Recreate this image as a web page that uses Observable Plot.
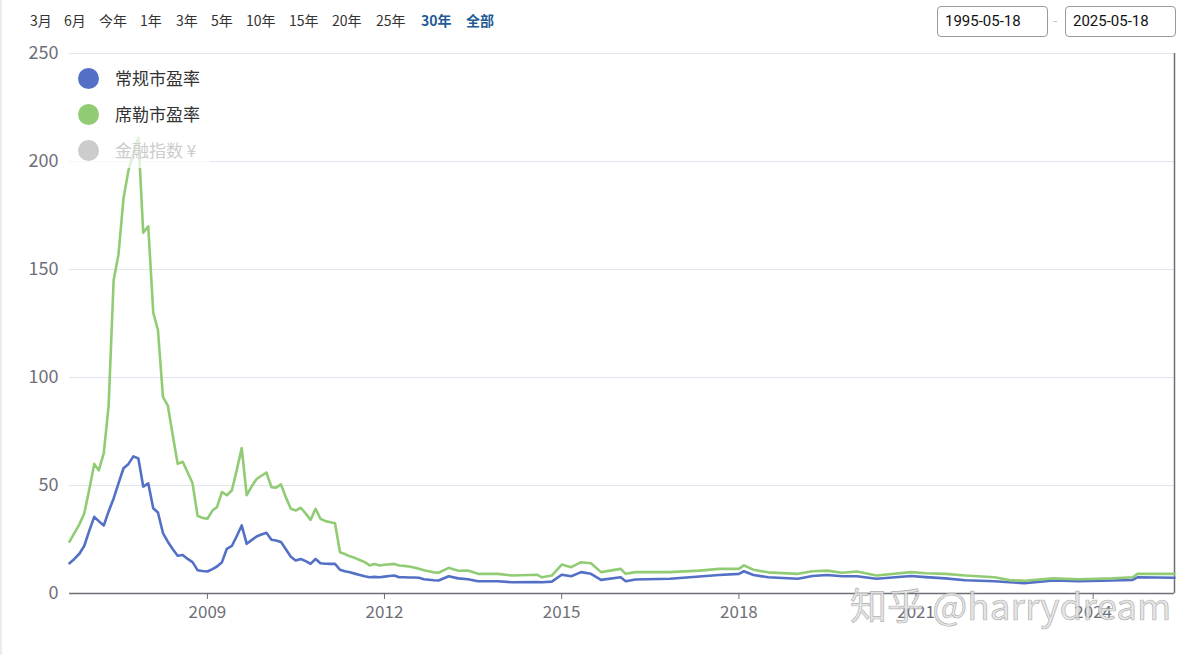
<!DOCTYPE html>
<html><head><meta charset="utf-8">
<script src="https://cdn.jsdelivr.net/npm/d3@7"></script>
<script src="https://cdn.jsdelivr.net/npm/@observablehq/plot@0.6"></script>
<style>
body{margin:0;background:#fff;font-family:"Noto Sans CJK SC",Roboto,sans-serif;}
#wrap{position:relative;width:1187px;height:655px;overflow:hidden;}
#edge{position:absolute;left:0;top:0;width:2px;height:655px;background:#ececec;}
.btn{position:absolute;top:0;line-height:40px;font-size:14px;color:#333;white-space:nowrap;}
.btn.on{color:#245b95;font-weight:bold;}
.date{position:absolute;top:6px;width:111px;height:31px;box-sizing:border-box;border:1px solid #9a9a9a;border-radius:4px;padding-left:7px;line-height:29px;font-size:15px;color:#111;font-family:Roboto,sans-serif;}
#dash{position:absolute;left:1053px;top:10px;font-size:13px;color:#bbb;}
#legbg{position:absolute;left:70px;top:60px;width:140px;height:108px;background:rgba(255,255,255,0.72);}
.dot{position:absolute;width:21px;height:21px;border-radius:50%;}
.lt{position:absolute;font-size:17px;line-height:24px;color:#333;white-space:nowrap;}
#wm{position:absolute;left:850px;top:582px;font-size:37px;line-height:44px;color:rgba(225,225,225,0.85);-webkit-text-stroke:0.7px rgba(120,120,120,0.55);white-space:nowrap;font-family:"Noto Sans CJK SC",sans-serif;}
svg{position:absolute;left:0;top:0;}
</style></head>
<body>
<div id="wrap"></div>
<script>
// ---- data ----
const dates = [
"2006-09","2006-10","2006-11","2006-12","2007-01","2007-02","2007-03","2007-04","2007-05","2007-06","2007-07","2007-08",
"2007-09","2007-10","2007-11","2007-12","2008-01","2008-02","2008-03","2008-04","2008-05","2008-06","2008-07","2008-08",
"2008-09","2008-10","2008-11","2008-12","2009-01","2009-02","2009-03","2009-04","2009-05","2009-06","2009-07","2009-08",
"2009-09","2009-10","2009-11","2009-12","2010-01","2010-02","2010-03","2010-04","2010-05","2010-06","2010-07","2010-08",
"2010-09","2010-10","2010-11","2010-12","2011-01","2011-02","2011-03","2011-04","2011-05","2011-06","2011-07","2011-08",
"2011-09","2011-10","2011-11","2011-12","2012-01","2012-02","2012-03","2012-04","2012-05","2012-06","2012-07","2012-08",
"2012-09","2012-11","2012-12","2013-02","2013-04","2013-06","2013-08","2013-12","2014-03","2014-08","2014-09","2014-11",
"2015-01","2015-03","2015-05","2015-07","2015-09","2016-01","2016-02","2016-04","2016-11","2017-05","2017-09","2018-01",
"2018-02","2018-04","2018-07","2019-01","2019-04","2019-07","2019-10","2020-01","2020-05","2020-12","2021-03","2021-07",
"2021-11","2022-05","2022-08","2022-11","2023-05","2023-10","2024-05","2024-09","2024-10","2025-05-18"
];
// 常规市盈率
const pe = [
14,16,18.4,22,29,35.5,33.5,31.5,38,44,51,58,
60,63.5,62.5,49.5,51,39.5,37.5,28,24,20.5,17.5,17.8,
16,14.5,10.8,10.4,10.2,11.3,12.5,14.5,20.7,22,26.5,31.5,
23,24.7,26.4,27.3,28.1,24.9,24.5,23.8,20.5,17,15.3,16,
15,13.7,16,14,13.8,13.7,13.7,11,10.3,9.8,9.2,8.6,
8.0,7.5,7.7,7.5,7.8,8.1,8.3,7.5,7.5,7.4,7.4,7.3,
6.6,6.1,6.0,8.0,7.0,6.6,5.7,5.7,5.2,5.3,5.2,5.5,
8.7,8.0,9.9,9.1,6.3,7.5,5.7,6.5,6.8,7.9,8.6,9.1,
10.3,8.6,7.5,6.8,8.1,8.6,8.0,8.0,6.8,8.1,7.6,7.0,
6.1,5.7,5.2,4.8,6.0,5.7,6.0,6.3,7.5,7.3
];
// 席勒市盈率
const cape = [
24,28,32,37,48,60,57,65,87,145,157,183,
196,204,211,167,170,130,122,91,87,73,60,61,
56,51,36,35,34.6,38.4,40,47,45.5,47.7,57,67.3,
45.5,49.5,53,54.5,56,49.2,49,50.5,44.5,39.2,38.4,39.7,
37,34.1,39.2,34.6,33.5,33,32.5,19.1,18.3,17.2,16.5,15.5,
14.5,13,13.7,13,13.3,13.5,13.7,13,12.8,12.5,12,11.5,
10.8,9.8,9.6,11.9,10.5,10.6,9.1,9.1,8.3,8.7,7.5,8.3,
13.4,12.2,14.5,14,9.9,11.4,9.1,9.9,9.9,10.6,11.4,11.4,
13,11,9.8,9.1,10.3,10.6,9.6,10.2,8.3,9.9,9.4,9.1,
8.3,7.5,6.2,5.9,7.0,6.6,7.0,7.5,9.1,9.1
];
const yTicks = [0,50,100,150,200,250];
const xTickYears = [2009,2012,2015,2018,2021,2024];
const ranges = ["3月","6月","今年","1年","3年","5年","10年","15年","20年","25年","30年","全部"];
const activeRanges = ["30年","全部"];
const seriesNames = ["常规市盈率","席勒市盈率","金融指数 ¥"];
const seriesColors = ["#5470c6","#91cc75","#cccccc"];
const dateFrom = "1995-05-18", dateTo = "2025-05-18";

// ---- build ----
const parseDate = s => s.length > 7 ? d3.utcParse("%Y-%m-%d")(s) : d3.utcParse("%Y-%m")(s);
const data = dates.map((d, i) => ({date: parseDate(d), pe: pe[i], cape: cape[i]}));
const x0 = data[0].date, x1 = data[data.length - 1].date;
const xTicks = xTickYears.map(y => new Date(Date.UTC(y, 0, 1)));

const chart = Plot.plot({
  width: 1187, height: 655,
  marginTop: 53, marginBottom: 62, marginLeft: 69, marginRight: 13,
  style: {fontFamily: '"Noto Sans CJK SC", sans-serif', fontSize: "18px", color: "#6e7079", background: "transparent"},
  x: {type: "utc", domain: [x0, x1]},
  y: {domain: [0, 250]},
  marks: [
    Plot.gridY(yTicks, {stroke: "#e0e6f1", strokeOpacity: 1, strokeWidth: 1}),
    Plot.ruleX([x1], {stroke: "#6e7079", strokeWidth: 1.5}),
    Plot.lineY(data, {x: "date", y: "pe", stroke: seriesColors[0], strokeWidth: 2.6}),
    Plot.lineY(data, {x: "date", y: "cape", stroke: seriesColors[1], strokeWidth: 2.6}),
    Plot.ruleY([0], {stroke: "#6e7079", strokeWidth: 1.3}),
    Plot.axisY(yTicks, {tickSize: 0, tickPadding: 11, fontSize: 18, fill: "#6e7079"}),
    Plot.axisX(xTicks, {tickSize: 6, tickPadding: 6, tickFormat: "%Y", stroke: "#6e7079", fill: "#6e7079", fontSize: 17})
  ]
});

const wrap = document.getElementById("wrap");
wrap.appendChild(chart);

const edge = document.createElement("div"); edge.id = "edge"; wrap.appendChild(edge);

const btnLeft = [30,64,99,140,176,211,246,289,332,376,421,466];
ranges.forEach((r, i) => {
  const s = document.createElement("span");
  s.className = "btn" + (activeRanges.includes(r) ? " on" : "");
  s.style.left = btnLeft[i] + "px";
  s.textContent = r;
  wrap.appendChild(s);
});
[[dateFrom, 937], [dateTo, 1065]].forEach(([t, l]) => {
  const d = document.createElement("div");
  d.className = "date"; d.style.left = l + "px"; d.textContent = t;
  wrap.appendChild(d);
});
const dash = document.createElement("div"); dash.id = "dash"; dash.textContent = "-"; wrap.appendChild(dash);

const legbg = document.createElement("div"); legbg.id = "legbg"; wrap.appendChild(legbg);
seriesNames.forEach((n, i) => {
  const cy = 78 + i * 36;
  const dot = document.createElement("div");
  dot.className = "dot"; dot.style.left = "78px"; dot.style.top = (cy - 10.5) + "px";
  dot.style.background = seriesColors[i];
  wrap.appendChild(dot);
  const t = document.createElement("div");
  t.className = "lt"; t.style.left = "115px"; t.style.top = (cy - 12) + "px";
  t.textContent = n;
  if (i === 2) t.style.color = "#cccccc";
  wrap.appendChild(t);
});

const wm = document.createElement("div"); wm.id = "wm"; wm.textContent = "知乎 @harrydream"; wrap.appendChild(wm);
</script>
</body></html>
